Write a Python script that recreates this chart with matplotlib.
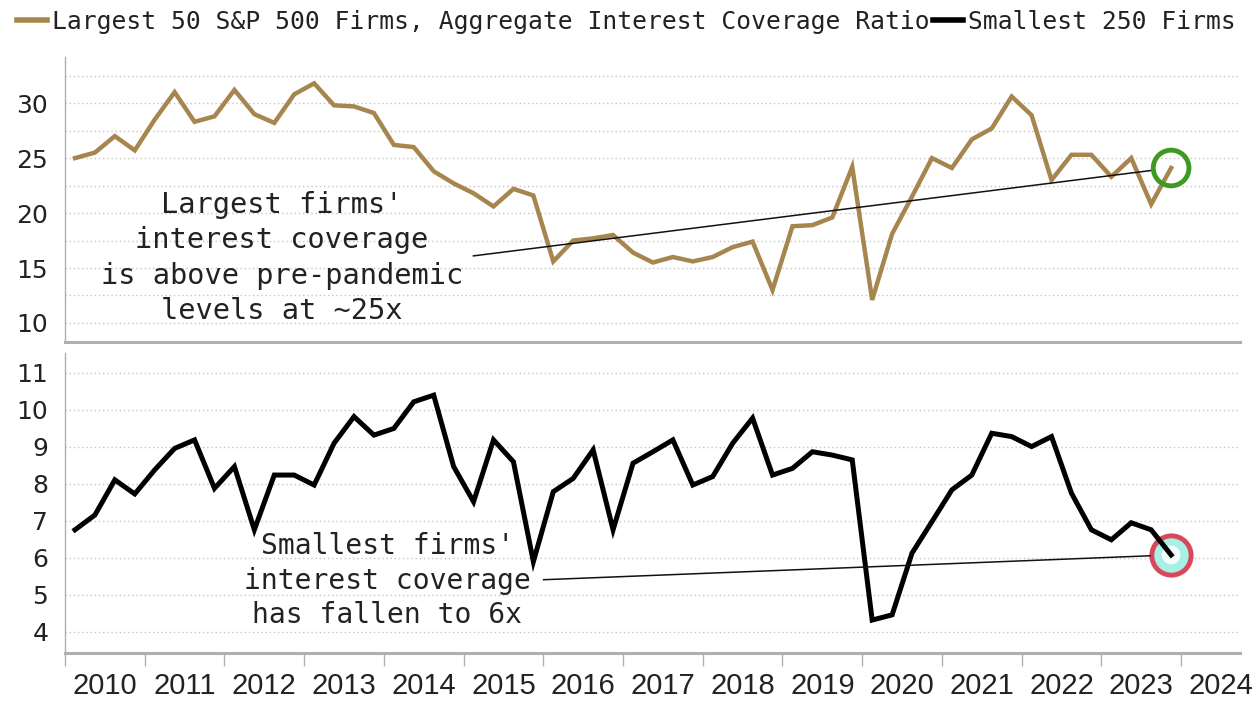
import matplotlib
matplotlib.use("Agg")
import matplotlib.pyplot as plt
from matplotlib.ticker import MultipleLocator, FixedLocator, NullFormatter
import pandas as pd

# ---------------- data ----------------
quarters = pd.period_range("2010Q1", "2023Q4", freq="Q")
x_pos = quarters.year + (quarters.quarter - 1) / 4 + 0.125

largest = [25.0, 25.5, 27.0, 25.7, 28.5, 31.0, 28.3, 28.8, 31.2, 29.0,
           28.2, 30.8, 31.8, 29.8, 29.7, 29.1, 26.2, 26.0, 23.8, 22.7,
           21.8, 20.6, 22.2, 21.6, 15.6, 17.5, 17.7, 18.0, 16.4, 15.5,
           16.0, 15.6, 16.0, 16.9, 17.4, 13.0, 18.8, 18.9, 19.6, 24.2,
           12.1, 18.1, 21.5, 25.0, 24.1, 26.7, 27.7, 30.6, 28.9, 23.0,
           25.3, 25.3, 23.3, 25.0, 20.8, 24.1]

smallest = [6.76, 7.16, 8.11, 7.73, 8.38, 8.96, 9.19, 7.88, 8.47, 6.76,
            8.24, 8.24, 7.97, 9.10, 9.82, 9.32, 9.50, 10.22, 10.40, 8.47,
            7.52, 9.19, 8.60, 5.90, 7.79, 8.15, 8.92, 6.76, 8.56, 8.87,
            9.19, 7.97, 8.20, 9.10, 9.78, 8.24, 8.42, 8.87, 8.78, 8.65,
            4.32, 4.46, 6.13, 6.98, 7.84, 8.24, 9.37, 9.28, 9.01, 9.28,
            7.75, 6.76, 6.49, 6.95, 6.76, 6.08]

series_names = ["Largest 50 S&P 500 Firms, Aggregate Interest Coverage Ratio",
                "Smallest 250 Firms"]
year_labels = [str(y) for y in range(2010, 2025)]
top_ticks = [10, 15, 20, 25, 30]
bottom_ticks = [4, 5, 6, 7, 8, 9, 10, 11]
note_top = "Largest firms'\ninterest coverage\nis above pre-pandemic\nlevels at ~25x"
note_bottom = "Smallest firms'\ninterest coverage\nhas fallen to 6x"

# ---------------- style ----------------
GOLD = "#A6864E"
BLACK = "#000000"
GRID = "#c4c4c4"
SPINE = "#b0b0b0"
TXT = "#222222"
MONO = ["DejaVu Sans Mono"]

fig = plt.figure(figsize=(12.55, 7.05), dpi=100)
ax1 = fig.add_axes([0.0518, 0.5149, 0.9363, 0.4043])
ax2 = fig.add_axes([0.0518, 0.0738, 0.9363, 0.4255], sharex=ax1)

l1, = ax1.plot(x_pos, largest, color=GOLD, lw=3.2, solid_joinstyle="miter", zorder=3)
l2, = ax2.plot(x_pos, smallest, color=BLACK, lw=3.6, solid_joinstyle="miter", zorder=3)

ax1.set_xlim(2010, 2024.74)
ax1.set_ylim(8.27, 34.2)
ax2.set_ylim(3.43, 11.54)

for ax in (ax1, ax2):
    for s in ("top", "right"):
        ax.spines[s].set_visible(False)
    ax.spines["left"].set_color(SPINE)
    ax.spines["left"].set_linewidth(1.0)
    ax.spines["bottom"].set_color(SPINE)
    ax.spines["bottom"].set_linewidth(2.2)
    ax.tick_params(axis="y", length=0, pad=12, labelsize=18, labelcolor=TXT)
    ax.set_axisbelow(True)

ax1.yaxis.set_major_locator(FixedLocator(top_ticks))
ax1.yaxis.set_minor_locator(MultipleLocator(2.5))
ax1.grid(axis="y", which="both", color=GRID, lw=1.0, linestyle=(0, (1, 2)))
ax1.tick_params(axis="y", which="minor", length=0)
ax2.yaxis.set_major_locator(FixedLocator(bottom_ticks))
ax2.grid(axis="y", which="major", color=GRID, lw=1.0, linestyle=(0, (1, 2)))

# x axis: year boundary ticks (no label), labels centered mid-year
years = list(range(2010, 2025))
ax2.xaxis.set_major_locator(FixedLocator(years))
ax2.xaxis.set_major_formatter(NullFormatter())
ax2.xaxis.set_minor_locator(FixedLocator([y + 0.5 for y in years]))
ax2.set_xticklabels(year_labels, minor=True)
ax2.tick_params(axis="x", which="major", length=9, width=1, color=SPINE, direction="out")
ax2.tick_params(axis="x", which="minor", length=0, pad=14, labelsize=21, labelcolor=TXT)
for t in ax2.get_xticklabels(minor=True):
    t.set_family(["Liberation Sans", "DejaVu Sans"])
ax1.tick_params(axis="x", which="both", length=0, labelbottom=False)

for t in ax1.get_yticklabels() + ax2.get_yticklabels():
    t.set_family(["DejaVu Sans"])

# ---------------- annotations ----------------
ax1.annotate("", xy=(x_pos[-1], largest[-1]), xytext=(2015.12, 16.1),
             arrowprops=dict(arrowstyle="-", color="#111111", lw=1.1,
                             shrinkA=0, shrinkB=13), zorder=4)
ax1.scatter([x_pos[-1]], [largest[-1]], s=660, facecolors="none",
            edgecolors="#3E9A23", linewidths=3.5, zorder=5)
ax1.text(2012.72, 15.9, note_top, ha="center", va="center", multialignment="center",
         family=MONO, fontsize=20.6, color=TXT, linespacing=1.33, zorder=4)

ax2.annotate("", xy=(x_pos[-1], smallest[-1]), xytext=(2016.0, 5.41),
             arrowprops=dict(arrowstyle="-", color="#111111", lw=1.1,
                             shrinkA=0, shrinkB=15), zorder=4)
ax2.scatter([x_pos[-1]], [smallest[-1]], s=800, facecolors="#a8f0e6",
            edgecolors="#D9485A", linewidths=3.5, zorder=2)
ax2.scatter([x_pos[-1]], [smallest[-1]], s=180, facecolors="#f4fffd",
            edgecolors="none", zorder=2)
ax2.text(2014.04, 5.38, note_bottom, ha="center", va="center", multialignment="center",
         family=MONO, fontsize=20.2, color=TXT, linespacing=1.3, zorder=4)

# ---------------- legend ----------------
leg = fig.legend([l1, l2], series_names, loc="upper left", bbox_to_anchor=(0.006, 1.0),
                 ncol=2, frameon=False, handlelength=1.2, handletextpad=0.2,
                 columnspacing=0.15, borderaxespad=0,
                 prop={"family": MONO, "size": 17.7})
for h in leg.legend_handles:
    h.set_linewidth(4)
for t in leg.get_texts():
    t.set_color(TXT)

fig.savefig("out.png", dpi=100)
